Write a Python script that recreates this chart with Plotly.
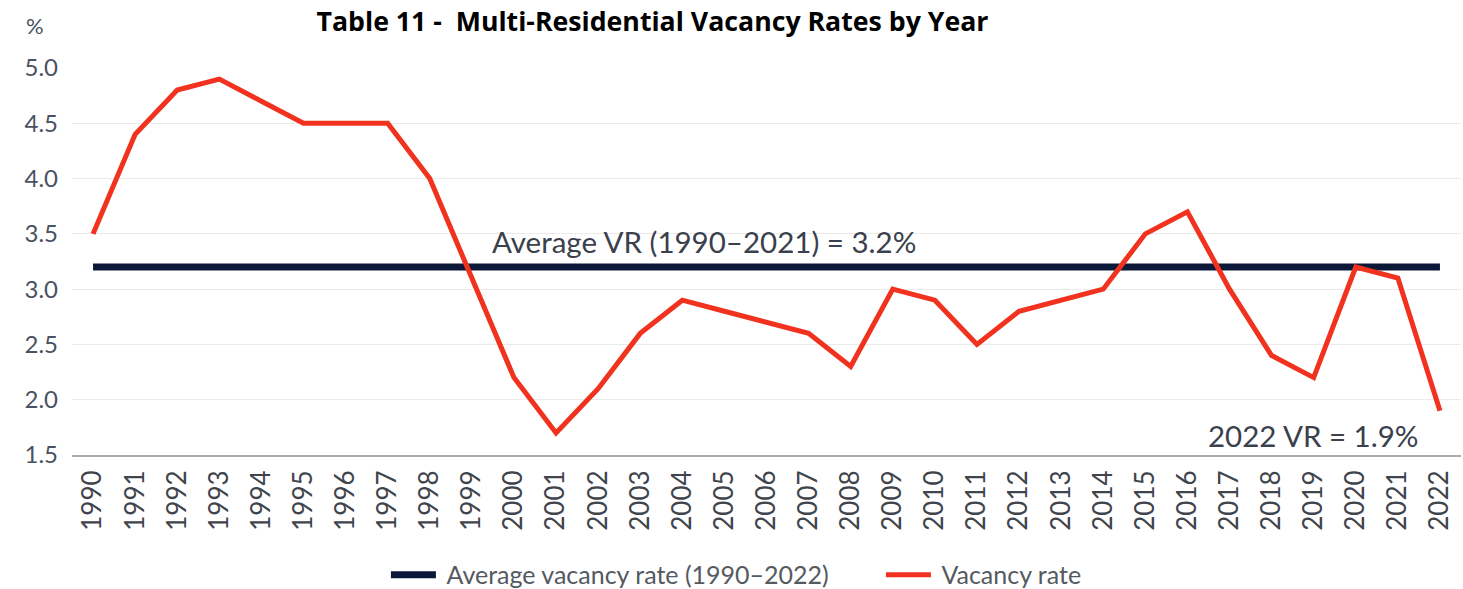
import plotly.graph_objects as go

years = [str(y) for y in range(1990, 2023)]
vacancy_rate = [3.5, 4.4, 4.8, 4.9, 4.7, 4.5, 4.5, 4.5, 4.0, 3.1,
                2.2, 1.7, 2.1, 2.6, 2.9, 2.8, 2.7, 2.6, 2.3, 3.0,
                2.9, 2.5, 2.8, 2.9, 3.0, 3.5, 3.7, 3.0, 2.4, 2.2,
                3.2, 3.1, 1.9]
average_rate = 3.2
y_ticks = [1.5, 2.0, 2.5, 3.0, 3.5, 4.0, 4.5, 5.0]

label_font = "Lato, 'Open Sans', sans-serif"

fig = go.Figure()
fig.add_trace(go.Scatter(
    x=years, y=[average_rate] * len(years), mode="lines",
    name="\u00a0Average vacancy rate (1990\u20132022)",
    line=dict(color="#0c1838", width=7),
))
fig.add_trace(go.Scatter(
    x=years, y=vacancy_rate, mode="lines",
    name="\u00a0Vacancy rate",
    line=dict(color="#f0321f", width=5),
))

fig.update_layout(
    width=1463, height=589,
    paper_bgcolor="white", plot_bgcolor="white",
    margin=dict(l=72, r=2, t=68, b=134, autoexpand=False),
    title=dict(text="<b>Table 11 -  Multi-Residential Vacancy Rates by Year</b>",
               x=652.5 / 1463, xanchor="center",
               y=1 - 22 / 589, yanchor="middle",
               font=dict(family="'Open Sans', sans-serif", size=26.7, color="#000000")),
    showlegend=True,
    legend=dict(orientation="h", x=0.226, xanchor="left", y=-0.31, yanchor="middle",
                font=dict(family=label_font, size=25, color="#555a60"),
                itemwidth=45, entrywidth=435, tracegroupgap=0),
    annotations=[
        dict(text="Average VR (1990\u20132021) = 3.2%", xref="x", yref="y",
             x=9, y=3.43, xanchor="left", yanchor="middle", xshift=18,
             showarrow=False, font=dict(family=label_font, size=29.5, color="#3a404c")),
        dict(text="2022 VR = 1.9%", xref="x", yref="y",
             x=32, y=1.68, xanchor="right", yanchor="middle", xshift=-20,
             showarrow=False, font=dict(family=label_font, size=29.5, color="#3a404c")),
        dict(text="%", xref="paper", yref="paper", x=-0.0266, y=1.111,
             xanchor="center", yanchor="middle", showarrow=False,
             font=dict(family=label_font, size=22, color="#4a5262")),
    ],
)
fig.update_xaxes(
    type="category", range=[-0.5, 32.5], tickangle=-90, automargin=False,
    showgrid=False, showline=True, linecolor="#aaaaaa", linewidth=2,
    ticks="", ticklabelstandoff=3,
    tickfont=dict(family=label_font, size=26, color="#40444c"),
)
fig.update_yaxes(
    range=[1.5, 5.0], tickvals=y_ticks, ticktext=[f"{v:.1f}" for v in y_ticks],
    showgrid=True, gridcolor="#ebebeb", gridwidth=1, zeroline=False, automargin=False,
    ticks="", ticklabelstandoff=13,
    tickfont=dict(family=label_font, size=24, color="#4a5262"),
)

fig.write_html("out.html", config={"displayModeBar": False},
               post_script="document.body.style.margin='0';")
